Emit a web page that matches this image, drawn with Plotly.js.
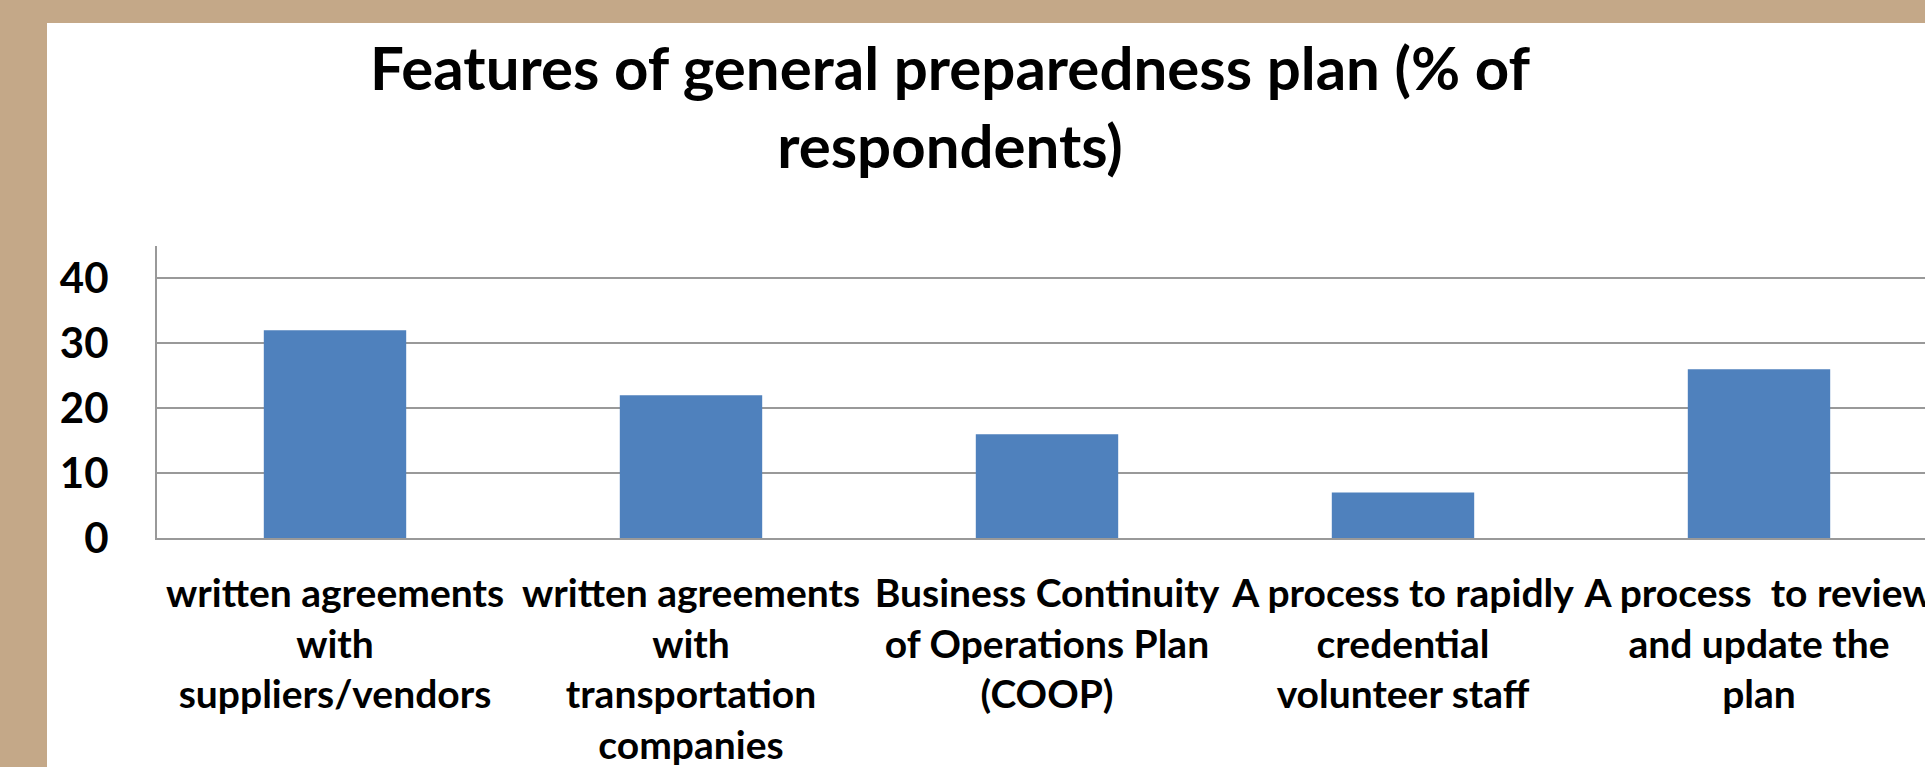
<!DOCTYPE html>
<html>
<head>
<meta charset="utf-8">
<script src="https://cdn.plot.ly/plotly-3.0.1.min.js"></script>
<style>
  html, body { margin: 0; padding: 0; width: 1925px; height: 767px; overflow: hidden; background: #c4a888; }
  #chart { position: absolute; left: 47px; top: 23px; width: 1900px; height: 744px; background: #ffffff; }
</style>
</head>
<body>
<div id="chart"></div>
<script>
// Data
const categories = [
  "written agreements<br>with<br>suppliers/vendors",
  "written agreements<br>with<br>transportation<br>companies",
  "Business Continuity<br>of Operations Plan<br>(COOP)",
  "A process to rapidly<br>credential<br>volunteer staff",
  "A process\u00a0 to review<br>and update the<br>plan"
];
const values = [32, 22, 16, 7, 26];
const yTicks = [0, 10, 20, 30, 40];
const titleText = "Features of general preparedness plan (% of<br>respondents)";

const xPos = categories.map((c, i) => i);
const FONT = "Lato, 'Open Sans', sans-serif";

const data = [{
  type: "bar",
  x: xPos,
  y: values,
  width: 0.4,
  marker: { color: "#4f81bd", line: { width: 0 } },
  hoverinfo: "skip"
}];

const layout = {
  width: 1900,
  height: 744,
  paper_bgcolor: "#ffffff",
  plot_bgcolor: "#ffffff",
  margin: { l: 110, r: 10, t: 223, b: 229, pad: 0 },
  showlegend: false,
  title: {
    text: titleText,
    font: { family: FONT, size: 60, color: "#000000", weight: 700 },
    xref: "container", x: 903 / 1900, xanchor: "center",
    yref: "container", y: 1 - 67 / 744, yanchor: "top"
  },
  xaxis: {
    type: "linear",
    range: [-0.5, 4.5],
    tickmode: "array",
    tickvals: xPos,
    ticktext: categories,
    tickangle: 0,
    ticks: "",
    showgrid: false,
    zeroline: false,
    showline: true,
    linecolor: "#999999",
    linewidth: 2,
    tickfont: { family: FONT, size: 39, color: "#000000", weight: 700 },
    ticklabelstandoff: 20
  },
  yaxis: {
    range: [0, 45],
    tickmode: "array",
    tickvals: yTicks,
    ticktext: yTicks.map(String),
    ticks: "",
    showgrid: true,
    gridcolor: "#999999",
    gridwidth: 2,
    zeroline: false,
    showline: true,
    linecolor: "#999999",
    linewidth: 2,
    tickfont: { family: FONT, size: 42, color: "#000000", weight: 700 },
    ticklabelstandoff: 38
  }
};

Plotly.newPlot("chart", data, layout, { staticPlot: true, displayModeBar: false });
</script>
</body>
</html>
